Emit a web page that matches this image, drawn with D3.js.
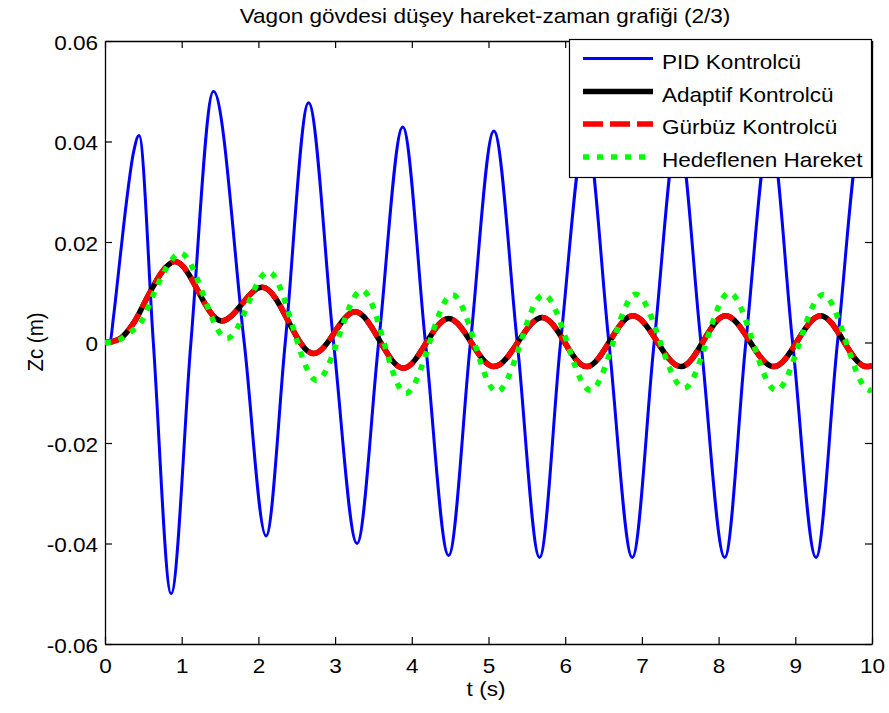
<!DOCTYPE html>
<html>
<head>
<meta charset="utf-8">
<script src="https://cdn.jsdelivr.net/npm/d3@7"></script>
<style>
  html, body { margin: 0; padding: 0; background: #fff; }
  text { font-family: "Liberation Sans", Arial, Helvetica, sans-serif; fill: #000; }
</style>
</head>
<body>
<svg id="chart" width="889" height="713"></svg>
<script>
// ---- data (t in s, Zc in m) ----
const pid = [
  [0, 0], [0.07, 0.0005], [0.11, 0.005], [0.2, 0.0173], [0.28, 0.028], [0.37, 0.0377], [0.444, 0.0412],
  [0.63, 0], [0.862, -0.050], [1.12, 0], [1.414, 0.050], [1.815, 0], [2.10, -0.0385],
  [2.35, 0], [2.654, 0.0477], [2.98, 0], [3.286, -0.040], [3.568, 0], [3.882, 0.0429],
  [4.178, 0], [4.48, -0.0424], [4.765, 0], [5.07, 0.0421], [5.375, 0], [5.666, -0.0428],
  [5.94, 0], [6.27, 0.042], [6.57, 0], [6.875, -0.0428], [7.16, 0], [7.47, 0.042],
  [7.77, 0], [8.08, -0.0428], [8.355, 0], [8.67, 0.042], [8.965, 0], [9.27, -0.0428],
  [9.55, 0], [9.87, 0.042], [10, 0.039]
];
const adaptive = [
  [0, 0], [0.1, 0.0002], [0.2, 0.0008], [0.37, 0.0038], [0.59, 0.0101], [0.75, 0.0142], [0.91, 0.0161],
  [1.52, 0.0043], [2.05, 0.0110], [2.72, -0.0022], [3.26, 0.0061], [3.89, -0.0051],
  [4.48, 0.0048], [5.07, -0.0048], [5.70, 0.0050], [6.28, -0.0048], [6.88, 0.0053],
  [7.51, -0.0048], [8.09, 0.0053], [8.72, -0.0048], [9.33, 0.0053], [9.93, -0.0048], [10, -0.0046]
];
const robust = [
  [0, 0], [0.1, 0.0002], [0.2, 0.0008], [0.37, 0.0038], [0.59, 0.0101], [0.75, 0.0142], [0.91, 0.0161],
  [1.52, 0.0043], [2.05, 0.0110], [2.72, -0.0022], [3.26, 0.0061], [3.89, -0.0051],
  [4.48, 0.0048], [5.07, -0.0048], [5.70, 0.0050], [6.28, -0.0048], [6.88, 0.0053],
  [7.51, -0.0048], [8.09, 0.0053], [8.72, -0.0048], [9.33, 0.0053], [9.93, -0.0048], [10, -0.0046]
];
const target = [
  [0, 0], [0.15, 0.0003], [0.3, 0.0017], [0.5, 0.0048], [0.63, 0.0095], [0.8, 0.0148], [0.98, 0.0178],
  [1.59, 0.0008], [2.13, 0.0141], [2.76, -0.0075], [3.35, 0.0104], [3.92, -0.0101],
  [4.53, 0.0095], [5.11, -0.0098], [5.72, 0.0095], [6.33, -0.0095], [6.92, 0.0096],
  [7.55, -0.0091], [8.14, 0.0099], [8.75, -0.0095], [9.36, 0.0095], [9.97, -0.0095], [10, -0.0094]
];
const seriesNames = ["PID Kontrolcü", "Adaptif Kontrolcü", "Gürbüz Kontrolcü", "Hedeflenen Hareket"];
const xTicks = [0, 1, 2, 3, 4, 5, 6, 7, 8, 9, 10];
const yTicks = [-0.06, -0.04, -0.02, 0, 0.02, 0.04, 0.06];
const yTickLabels = ["-0.06", "-0.04", "-0.02", "0", "0.02", "0.04", "0.06"];
const titleText = "Vagon gövdesi düşey hareket-zaman grafiği (2/3)";
const xLabel = "t (s)";
const yLabel = "Zc (m)";

// ---- layout ----
const L = 105, R = 872, T = 41, B = 644;
const FS = 20.5, SX = 1.1;
const svg = d3.select("#chart");
const x = d3.scaleLinear().domain([0, 10]).range([L, R]);
const y = d3.scaleLinear().domain([-0.06, 0.06]).range([B, T]);

const clip = svg.append("clipPath").attr("id", "plotclip")
  .append("rect").attr("x", L).attr("y", T).attr("width", R - L).attr("height", B - T);

// axes
function styleAxis(g) {
  g.selectAll("path.domain").attr("stroke", "#000").attr("stroke-width", 1.3);
  g.selectAll(".tick line").attr("stroke", "#000").attr("stroke-width", 1.2);
  g.selectAll(".tick text")
    .attr("font-size", FS + "px")
    .attr("font-family", "'Liberation Sans', Arial, sans-serif")
    .attr("fill", "#000");
}
const gx = svg.append("g").attr("transform", `translate(0,${B})`)
  .call(d3.axisBottom(x).tickValues(xTicks).tickFormat(d3.format("d")).tickSizeInner(-7).tickSizeOuter(0).tickPadding(14));
styleAxis(gx);
gx.selectAll(".tick text").attr("dy", null).attr("y", 29).attr("transform", `scale(${SX},1)`);

const gy = svg.append("g").attr("transform", `translate(${L},0)`)
  .call(d3.axisLeft(y).tickValues(yTicks).tickFormat((d, i) => yTickLabels[i]).tickSizeInner(-7).tickSizeOuter(0).tickPadding(6));
styleAxis(gy);
gy.selectAll(".tick text").attr("dy", null).attr("y", 8).attr("x", -7 / SX).attr("transform", `scale(${SX},1)`);

const gt = svg.append("g").attr("transform", `translate(0,${T})`)
  .call(d3.axisTop(x).tickValues(xTicks).tickFormat("").tickSizeInner(-7).tickSizeOuter(0));
styleAxis(gt);
const gr = svg.append("g").attr("transform", `translate(${R},0)`)
  .call(d3.axisRight(y).tickValues(yTicks).tickFormat("").tickSizeInner(-7).tickSizeOuter(0));
styleAxis(gr);

// lines
const line = d3.line().x(d => x(d[0])).y(d => y(d[1])).curve(d3.curveMonotoneX);
const plot = svg.append("g").attr("clip-path", "url(#plotclip)");
const styles = [
  { data: pid, color: "#0000ff", width: 3, dash: null },
  { data: adaptive, color: "#000000", width: 5.5, dash: null },
  { data: robust, color: "#ff0000", width: 5.5, dash: "20,7" },
  { data: target, color: "#00ff00", width: 5.5, dash: "6,8" }
];
styles.forEach(s => {
  plot.append("path").datum(s.data)
    .attr("fill", "none").attr("stroke", s.color).attr("stroke-width", s.width)
    .attr("stroke-linejoin", "round")
    .attr("stroke-dasharray", s.dash)
    .attr("d", line);
});

// legend
const lg = svg.append("g");
lg.append("rect").attr("x", 569.5).attr("y", 39.5).attr("width", 302).attr("height", 138)
  .attr("fill", "#fff").attr("stroke", "#000").attr("stroke-width", 1.2);
const rowY = [58.5, 91.5, 124, 157];
styles.forEach((s, i) => {
  lg.append("line").attr("x1", 583).attr("x2", 653).attr("y1", rowY[i]).attr("y2", rowY[i])
    .attr("stroke", s.color).attr("stroke-width", s.width).attr("stroke-dasharray", s.dash);
  lg.append("text").attr("transform", `translate(662,${rowY[i] + 10}) scale(${SX},1)`)
    .attr("font-size", FS + "px").text(seriesNames[i]);
});

// title and labels
svg.append("text").attr("transform", `translate(485,23) scale(${SX},1)`)
  .attr("text-anchor", "middle").attr("font-size", FS + "px").text(titleText);
svg.append("text").attr("transform", `translate(486,696) scale(${SX},1)`)
  .attr("text-anchor", "middle").attr("font-size", FS + "px").text(xLabel);
svg.append("text").attr("transform", `translate(43,342) rotate(-90) scale(1,${SX})`)
  .attr("text-anchor", "middle").attr("font-size", FS + "px").text(yLabel);
</script>
</body>
</html>
